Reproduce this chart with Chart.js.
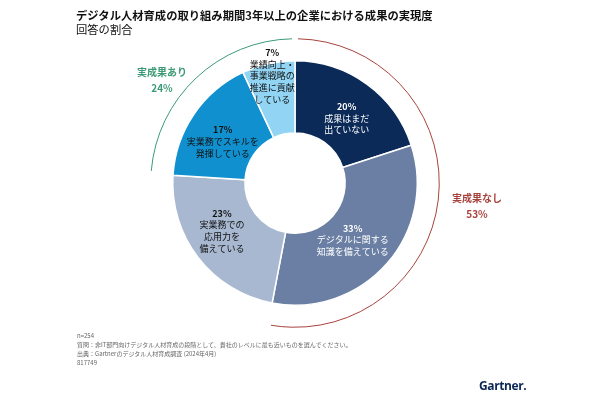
<!DOCTYPE html>
<html>
<head>
<meta charset="utf-8">
<script src="https://cdn.jsdelivr.net/npm/chart.js@4"></script>
<style>
  body { margin: 0; background: #fff; font-family: "Noto Sans CJK JP", "Noto Sans", sans-serif; }
  #wrap { position: relative; width: 600px; height: 400px; overflow: hidden; }
  #chart { position: absolute; left: 0; top: 0; }
  .title { position: absolute; left: 76px; top: 8px; font-size: 11.3px; line-height: 14px; color: #111; }
  .title b { font-weight: 700; }
  .notes { position: absolute; left: 77px; top: 331px; font-size: 6px; line-height: 9px; color: #666; }
  .logo { position: absolute; left: 479px; top: 377px; font-family: "Open Sans", sans-serif; font-weight: 700; font-size: 12px; color: #0b2756; letter-spacing: -0.4px; }
</style>
</head>
<body>
<div id="wrap">
  <canvas id="chart" width="600" height="400"></canvas>
  <div class="title"><b>デジタル人材育成の取り組み期間3年以上の企業における成果の実現度</b><br>回答の割合</div>
  <div class="notes">n=254<br>質問：非IT部門向けデジタル人材育成の段階として、貴社のレベルに最も近いものを選んでください。<br>出典：Gartnerのデジタル人材育成調査 (2024年4月)<br>817749</div>
  <div class="logo">Gartner.</div>
</div>
<script>
// slices, clockwise from the top
const categories = [
  ["成果はまだ", "出ていない"],
  ["デジタルに関する", "知識を備えている"],
  ["実業務での", "応用力を", "備えている"],
  ["実業務でスキルを", "発揮している"],
  ["業績向上・", "事業戦略の", "推進に貢献", "している"]
];
const shares = [20, 33, 23, 17, 7];
const sliceColors = ["#0b2a58", "#6a7fa3", "#a8b8d1", "#1190cf", "#92d4f3"];

// outer groupings (indexes into the slices above)
const groupNames = ["実成果なし", "実成果あり"];
const groupMembers = [[0, 1], [3, 4]];

const sliceLabels = {
  id: "sliceLabels",
  afterDatasetsDraw(chart, args, opts) {
    const ctx = chart.ctx;
    const meta = chart.getDatasetMeta(0);
    ctx.save();
    ctx.textAlign = "center";
    ctx.textBaseline = "middle";
    meta.data.forEach((arc, i) => {
      const p = arc.getCenterPoint();
      const shift = opts.shift[i];
      const lines = categories[i];
      const lh = opts.lineHeight;
      const total = lines.length + 1;
      let y = p.y + shift[1] - (total - 1) * lh / 2;
      const x = p.x + shift[0];
      ctx.fillStyle = opts.textColors[i];
      ctx.font = "bold 9px 'Noto Sans CJK JP'";
      ctx.fillText(shares[i] + "%", x, y);
      ctx.font = "9px 'Noto Sans CJK JP'";
      lines.forEach((t) => {
        y += lh;
        ctx.fillText(t, x, y);
      });
    });
    ctx.restore();
  }
};

const groupArcs = {
  id: "groupArcs",
  afterDatasetsDraw(chart, args, opts) {
    const ctx = chart.ctx;
    const meta = chart.getDatasetMeta(0);
    const first = meta.data[0];
    const cx = first.x, cy = first.y;
    const r = first.outerRadius + opts.gap;
    const d = opts.endGap * Math.PI / 180;
    ctx.save();
    groupMembers.forEach((members, g) => {
      const a0 = meta.data[members[0]].startAngle;
      const a1 = meta.data[members[members.length - 1]].endAngle;
      ctx.beginPath();
      ctx.strokeStyle = opts.colors[g];
      ctx.lineWidth = 1;
      ctx.arc(cx, cy, r, a0 + d, a1 - d);
      ctx.stroke();
      const sum = members.reduce((s, k) => s + shares[k], 0);
      const off = opts.labelOffsets[g];
      ctx.fillStyle = opts.colors[g];
      ctx.textAlign = "center";
      ctx.textBaseline = "middle";
      ctx.font = "bold 10px 'Noto Sans CJK JP'";
      ctx.fillText(groupNames[g], cx + off[0], cy + off[1]);
      ctx.fillText(sum + "%", cx + off[0], cy + off[1] + 16);
    });
    ctx.restore();
  }
};

new Chart(document.getElementById("chart"), {
  type: "doughnut",
  data: {
    labels: categories.map((l) => l.join("")),
    datasets: [{
      data: shares,
      backgroundColor: sliceColors,
      borderColor: "#ffffff",
      borderWidth: 1.5
    }]
  },
  options: {
    responsive: false,
    animation: false,
    devicePixelRatio: 1,
    cutout: "41%",
    layout: { padding: { left: 172, right: 182, top: 60, bottom: 94 } },
    plugins: {
      legend: { display: false },
      tooltip: { enabled: false },
      sliceLabels: {
        lineHeight: 11.8,
        shift: [[1, 5], [-7, 0], [-5, -5], [-1, 7], [-4, -23]],
        textColors: ["#ffffff", "#ffffff", "#111111", "#111111", "#111111"]
      },
      groupArcs: {
        gap: 22,
        endGap: 1.2,
        colors: ["#a8423c", "#3c9a76"],
        labelOffsets: [[182, 15], [-133, -111]]
      }
    }
  },
  plugins: [sliceLabels, groupArcs]
});
</script>
</body>
</html>
